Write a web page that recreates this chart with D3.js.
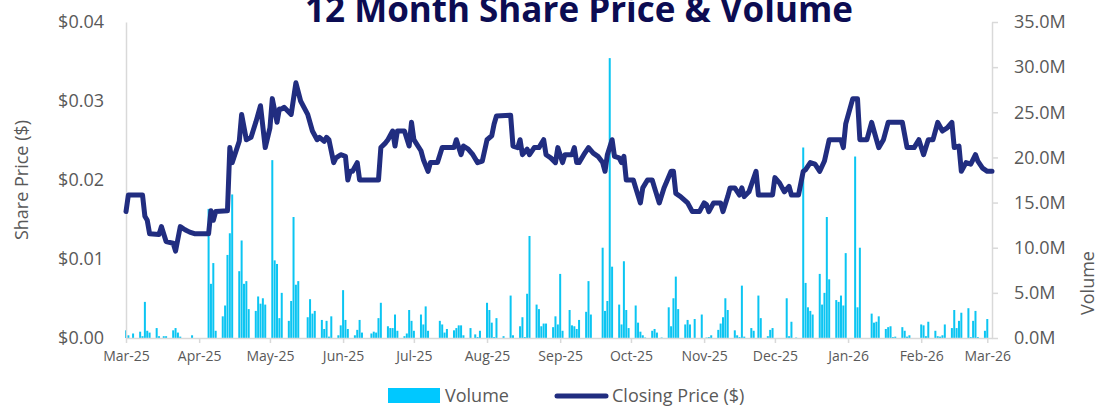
<!DOCTYPE html>
<html>
<head>
<script src="https://cdn.jsdelivr.net/npm/d3@7"></script>
<style>
body { margin: 0; background: #fff; }
text { font-family: "Open Sans", "Noto Sans", sans-serif; }
</style>
</head>
<body>
<div id="chart"></div>
<script>
/* Closing price ($) */
var priceDates = ["2025-03-01","2025-03-02","2025-03-08","2025-03-09","2025-03-10","2025-03-11","2025-03-15","2025-03-16","2025-03-18","2025-03-21","2025-03-22","2025-03-24","2025-03-26","2025-03-28","2025-03-30",
  "2025-04-05","2025-04-06","2025-04-07","2025-04-08","2025-04-13","2025-04-14","2025-04-15","2025-04-18","2025-04-19","2025-04-21","2025-04-23","2025-04-25","2025-04-27","2025-04-29",
  "2025-05-01","2025-05-02","2025-05-04","2025-05-05","2025-05-06","2025-05-07","2025-05-10","2025-05-12","2025-05-14","2025-05-17","2025-05-19","2025-05-21","2025-05-22","2025-05-24","2025-05-25","2025-05-26","2025-05-28","2025-05-29","2025-05-31",
  "2025-06-02","2025-06-03","2025-06-04","2025-06-05","2025-06-07","2025-06-08","2025-06-16","2025-06-17","2025-06-19","2025-06-20","2025-06-22","2025-06-23","2025-06-24","2025-06-27","2025-06-29","2025-06-30",
  "2025-07-01","2025-07-04","2025-07-05","2025-07-07","2025-07-08","2025-07-11","2025-07-13","2025-07-18","2025-07-19","2025-07-21","2025-07-22","2025-07-24","2025-07-26","2025-07-28","2025-07-30",
  "2025-08-01","2025-08-03","2025-08-04","2025-08-05","2025-08-11","2025-08-12","2025-08-14","2025-08-15","2025-08-16","2025-08-18","2025-08-19","2025-08-21","2025-08-23","2025-08-25","2025-08-26","2025-08-28","2025-08-30","2025-08-31",
  "2025-09-02","2025-09-03","2025-09-06","2025-09-07","2025-09-08","2025-09-09","2025-09-11","2025-09-13","2025-09-15","2025-09-17","2025-09-19","2025-09-20","2025-09-21","2025-09-23","2025-09-24","2025-09-26","2025-09-27","2025-09-28","2025-09-29",
  "2025-10-02","2025-10-03","2025-10-05","2025-10-06","2025-10-08","2025-10-10","2025-10-11","2025-10-13","2025-10-15","2025-10-18","2025-10-19","2025-10-20","2025-10-22","2025-10-25","2025-10-27","2025-10-30",
  "2025-11-01","2025-11-02","2025-11-03","2025-11-05","2025-11-08","2025-11-09","2025-11-11","2025-11-12","2025-11-14","2025-11-16","2025-11-17","2025-11-18","2025-11-20","2025-11-23","2025-11-24","2025-11-30",
  "2025-12-01","2025-12-03","2025-12-05","2025-12-07","2025-12-08","2025-12-11","2025-12-13","2025-12-14","2025-12-16","2025-12-18","2025-12-20","2025-12-22","2025-12-24","2025-12-29","2025-12-30","2025-12-31",
  "2026-01-03","2026-01-05","2026-01-06","2026-01-09","2026-01-11","2026-01-12","2026-01-14","2026-01-16","2026-01-18","2026-01-24","2026-01-26","2026-01-29","2026-01-31",
  "2026-02-02","2026-02-04","2026-02-06","2026-02-08","2026-02-10","2026-02-12","2026-02-14","2026-02-15","2026-02-17","2026-02-18","2026-02-20","2026-02-22","2026-02-24","2026-02-25","2026-02-27","2026-03-01","2026-03-03"];
var closePrice = [0.0160,0.0181,0.0181,0.0154,0.0149,0.0132,0.0131,0.0141,0.0122,0.0120,0.0110,0.0141,0.0137,0.0134,0.0132,
  0.0132,0.0161,0.0149,0.0160,0.0161,0.0241,0.0222,0.0249,0.0283,0.0251,0.0254,0.0273,0.0294,0.0241,
  0.0266,0.0303,0.0273,0.0290,0.0290,0.0292,0.0283,0.0323,0.0300,0.0283,0.0262,0.0251,0.0254,0.0249,0.0254,0.0251,0.0222,0.0228,0.0232,
  0.0230,0.0200,0.0211,0.0211,0.0222,0.0200,0.0200,0.0241,0.0247,0.0251,0.0262,0.0243,0.0262,0.0262,0.0243,0.0273,
  0.0251,0.0237,0.0226,0.0211,0.0222,0.0222,0.0241,0.0241,0.0251,0.0232,0.0243,0.0239,0.0232,0.0222,0.0224,
  0.0251,0.0256,0.0271,0.0281,0.0282,0.0243,0.0241,0.0251,0.0232,0.0239,0.0232,0.0241,0.0241,0.0251,0.0232,0.0228,0.0222,0.0241,
  0.0222,0.0232,0.0232,0.0241,0.0222,0.0222,0.0232,0.0241,0.0234,0.0230,0.0222,0.0211,0.0232,0.0251,0.0230,0.0228,0.0222,0.0230,0.0200,
  0.0200,0.0190,0.0171,0.0190,0.0200,0.0200,0.0190,0.0171,0.0190,0.0211,0.0211,0.0183,0.0179,0.0171,0.0160,0.0160,
  0.0171,0.0169,0.0160,0.0171,0.0171,0.0160,0.0179,0.0190,0.0190,0.0181,0.0190,0.0179,0.0185,0.0211,0.0181,0.0181,
  0.0203,0.0196,0.0185,0.0192,0.0181,0.0181,0.0211,0.0213,0.0222,0.0220,0.0211,0.0224,0.0251,0.0251,0.0241,0.0271,
  0.0303,0.0303,0.0251,0.0251,0.0273,0.0262,0.0241,0.0251,0.0273,0.0273,0.0241,0.0241,0.0251,
  0.0232,0.0251,0.0251,0.0273,0.0262,0.0266,0.0273,0.0241,0.0243,0.0211,0.0222,0.0220,0.0232,0.0224,0.0215,0.0211,0.0211];

/* Volume (millions of shares) */
var volDates = ["2025-03-01","2025-03-02","2025-03-04","2025-03-07","2025-03-08","2025-03-09","2025-03-10","2025-03-11","2025-03-14","2025-03-15","2025-03-17","2025-03-18","2025-03-21","2025-03-22","2025-03-23","2025-03-24","2025-03-29",
  "2025-04-05","2025-04-06","2025-04-07","2025-04-08","2025-04-11","2025-04-12","2025-04-13","2025-04-14","2025-04-15","2025-04-18","2025-04-19","2025-04-20","2025-04-21","2025-04-22","2025-04-25","2025-04-26","2025-04-27","2025-04-28","2025-04-29",
  "2025-05-02","2025-05-03","2025-05-04","2025-05-05","2025-05-06","2025-05-09","2025-05-10","2025-05-11","2025-05-12","2025-05-13","2025-05-17","2025-05-18","2025-05-19","2025-05-20","2025-05-23","2025-05-24","2025-05-25","2025-05-26","2025-05-27","2025-05-30","2025-05-31",
  "2025-06-01","2025-06-02","2025-06-03","2025-06-06","2025-06-07","2025-06-08","2025-06-09","2025-06-13","2025-06-14","2025-06-15","2025-06-16","2025-06-17","2025-06-20","2025-06-21","2025-06-22","2025-06-23","2025-06-24","2025-06-27","2025-06-28","2025-06-29","2025-06-30",
  "2025-07-01","2025-07-04","2025-07-05","2025-07-06","2025-07-07","2025-07-12","2025-07-13","2025-07-14","2025-07-15","2025-07-18","2025-07-19","2025-07-20","2025-07-21","2025-07-22","2025-07-25","2025-07-27","2025-07-28","2025-07-29",
  "2025-08-01","2025-08-02","2025-08-03","2025-08-04","2025-08-05","2025-08-08","2025-08-11","2025-08-12","2025-08-15","2025-08-16","2025-08-17","2025-08-18","2025-08-19","2025-08-22","2025-08-23","2025-08-24","2025-08-25","2025-08-26","2025-08-29","2025-08-30","2025-08-31",
  "2025-09-01","2025-09-02","2025-09-05","2025-09-06","2025-09-07","2025-09-08","2025-09-09","2025-09-12","2025-09-13","2025-09-14","2025-09-19","2025-09-20","2025-09-21","2025-09-22","2025-09-23","2025-09-26","2025-09-27","2025-09-28","2025-09-29","2025-09-30",
  "2025-10-03","2025-10-04","2025-10-05","2025-10-06","2025-10-07","2025-10-10","2025-10-11","2025-10-12","2025-10-14","2025-10-17","2025-10-18","2025-10-19","2025-10-20","2025-10-21","2025-10-24","2025-10-25","2025-10-26","2025-10-28","2025-10-31",
  "2025-11-02","2025-11-03","2025-11-04","2025-11-07","2025-11-08","2025-11-09","2025-11-10","2025-11-11","2025-11-14","2025-11-15","2025-11-16","2025-11-17","2025-11-18","2025-11-21","2025-11-22","2025-11-24","2025-11-25","2025-11-28","2025-11-29","2025-11-30",
  "2025-12-06","2025-12-07","2025-12-08","2025-12-10","2025-12-13","2025-12-14","2025-12-15","2025-12-16","2025-12-17","2025-12-20","2025-12-21","2025-12-22","2025-12-23","2025-12-24","2025-12-27","2025-12-28","2025-12-29","2025-12-30","2025-12-31",
  "2026-01-04","2026-01-05","2026-01-06","2026-01-11","2026-01-12","2026-01-13","2026-01-14","2026-01-17","2026-01-18","2026-01-19","2026-01-20","2026-01-21","2026-01-24","2026-01-25","2026-01-26","2026-01-27",
  "2026-02-01","2026-02-02","2026-02-03","2026-02-04","2026-02-07","2026-02-08","2026-02-09","2026-02-10","2026-02-11","2026-02-14","2026-02-15","2026-02-16","2026-02-17","2026-02-18","2026-02-21","2026-02-22","2026-02-23","2026-02-24","2026-02-25","2026-02-28","2026-03-01"];
var volume = [0.85,0.3,0.5,0.7,0.2,4.0,0.8,0.6,1.1,0.2,0.2,0.2,0.85,1.1,0.6,0.15,0.3,
  14.3,6.0,8.3,0.8,2.4,3.6,9.2,11.6,15.9,7.4,10.8,6.0,6.3,3.2,3.0,4.6,3.8,4.4,3.7,
  19.7,8.6,8.2,2.2,5.0,1.9,4.1,13.4,5.9,6.3,2.3,4.3,2.7,3.0,2.0,1.0,1.9,0.15,2.4,0.3,1.4,
  5.3,2.0,1.0,0.3,0.9,2.0,0.6,0.5,0.7,0.6,2.2,3.9,1.3,1.1,1.1,2.6,0.8,0.2,0.5,3.1,1.9,
  0.8,2.6,1.5,3.5,0.8,1.9,1.5,0.6,1.0,0.85,1.1,1.4,1.4,0.3,1.1,0.4,0.1,0.8,
  3.9,3.1,1.7,0.1,2.2,0.2,4.7,0.3,1.3,2.3,0.1,4.9,11.3,3.7,3.2,1.3,1.6,1.6,1.2,2.4,1.5,
  7.1,0.8,3.1,1.4,1.3,1.0,2.0,2.9,6.3,2.6,10.0,3.0,4.1,31.0,7.9,3.7,1.5,8.5,3.1,1.1,
  3.6,1.7,0.7,0.3,0.05,0.8,1.0,0.6,0.05,3.4,1.3,4.4,6.8,3.2,1.5,2.0,1.5,2.1,2.6,
  0.05,0.1,0.3,0.9,1.6,2.3,4.4,3.1,0.85,0.3,0.1,5.8,0.15,1.1,0.8,4.7,2.2,0.2,0.9,1.1,
  4.4,0.2,1.8,0.05,21.1,6.1,3.4,3.0,2.6,7.1,3.7,5.0,13.4,6.5,4.2,4.0,4.7,3.6,9.4,
  20.1,3.4,10.0,2.7,1.7,1.8,2.4,1.0,1.2,1.3,0.1,0.15,1.2,0.8,0.15,0.3,
  1.5,1.4,0.2,1.8,0.8,0.2,0.15,0.3,1.5,1.1,3.1,1.1,1.9,2.8,3.3,0.1,1.9,3.0,0.1,0.8,2.1];

/* Axis ticks */
var priceTicks = [0, 0.01, 0.02, 0.03, 0.04];
var volumeTicks = [0, 5, 10, 15, 20, 25, 30, 35];
var monthTicks = ["2025-03-01","2025-04-01","2025-05-01","2025-06-01","2025-07-01","2025-08-01","2025-09-01","2025-10-01","2025-11-01","2025-12-01","2026-01-01","2026-02-01","2026-03-01"];

var parseDate = d3.timeParse("%Y-%m-%d");
var W = 1099, H = 407;
var plotL = 126, plotR = 992, plotT = 22, plotB = 338;
var grey = "#595959", axisCol = "#d9d9d9";
var barCol = "#0bc5f2", lineCol = "#212d80";

var svg = d3.select("#chart").append("svg")
    .attr("width", W)
    .attr("height", H);

var x = d3.scaleTime()
    .domain([parseDate("2025-03-01"), parseDate("2026-03-03")])
    .range([plotL, plotR]);
var yPrice = d3.scaleLinear().domain([0, 0.04]).range([plotB, plotT]);
var yVol = d3.scaleLinear().domain([0, 35]).range([plotB, plotT]);

/* Title (its top runs off the canvas, as in the source image) */
svg.append("text")
    .attr("x", 579)
    .attr("y", 22)
    .attr("text-anchor", "middle")
    .attr("font-size", "35px")
    .attr("font-weight", "bold")
    .attr("fill", "#0c0c52")
    .text("12 Month Share Price & Volume");

/* Volume bars */
svg.append("g").selectAll("rect")
    .data(volume)
    .join("rect")
    .attr("x", (v, i) => x(parseDate(volDates[i])) - 1)
    .attr("width", 2)
    .attr("y", v => yVol(v))
    .attr("height", v => plotB - yVol(v))
    .attr("fill", barCol);

/* Axes */
var xAxis = d3.axisBottom(x)
    .tickValues(monthTicks.map(parseDate))
    .tickFormat(d3.timeFormat("%b-%y"))
    .tickSize(5)
    .tickSizeOuter(0);
var gx = svg.append("g").attr("transform", "translate(0," + plotB + ")").call(xAxis);
gx.selectAll("text").attr("font-size", "14px").attr("fill", grey).attr("dy", "1.1em")
    .attr("font-family", "'Open Sans', sans-serif");

var gl = svg.append("g").attr("transform", "translate(" + plotL + ",0)")
    .call(d3.axisLeft(yPrice).tickValues(priceTicks).tickFormat(d => "$" + d.toFixed(2)).tickSize(0).tickPadding(22));
gl.selectAll("text").attr("font-size", "18px").attr("fill", grey).attr("font-family", "'Open Sans', sans-serif");

var gr = svg.append("g").attr("transform", "translate(" + plotR + ",0)")
    .call(d3.axisRight(yVol).tickValues(volumeTicks).tickFormat(d => d.toFixed(1) + "M").tickSize(6).tickSizeOuter(0).tickPadding(16));
gr.selectAll("text").attr("font-size", "18px").attr("fill", grey).attr("font-family", "'Open Sans', sans-serif");

svg.selectAll(".domain, .tick line").attr("stroke", axisCol).attr("stroke-width", 1.5);

/* Closing price line */
var line = d3.line()
    .x((p, i) => x(parseDate(priceDates[i])))
    .y(p => yPrice(p));
svg.append("path")
    .datum(closePrice)
    .attr("d", line)
    .attr("fill", "none")
    .attr("stroke", lineCol)
    .attr("stroke-width", 5)
    .attr("stroke-linejoin", "round")
    .attr("stroke-linecap", "round");

/* Axis titles */
svg.append("text")
    .attr("transform", "translate(28,180) rotate(-90)")
    .attr("text-anchor", "middle")
    .attr("font-size", "18px")
    .attr("fill", grey)
    .text("Share Price ($)");
svg.append("text")
    .attr("transform", "translate(1094,283) rotate(-90)")
    .attr("text-anchor", "middle")
    .attr("font-size", "18px")
    .attr("fill", grey)
    .text("Volume");

/* Legend */
var lg = svg.append("g");
lg.append("rect").attr("x", 388).attr("y", 388).attr("width", 52).attr("height", 15).attr("fill", "#00c8ff");
lg.append("text").attr("x", 445).attr("y", 402).attr("font-size", "18px").attr("fill", grey).text("Volume");
lg.append("line").attr("x1", 557).attr("x2", 606).attr("y1", 396).attr("y2", 396)
    .attr("stroke", lineCol).attr("stroke-width", 5).attr("stroke-linecap", "round");
lg.append("text").attr("x", 612).attr("y", 402).attr("font-size", "18px").attr("fill", grey).text("Closing Price ($)");
</script>
</body>
</html>
